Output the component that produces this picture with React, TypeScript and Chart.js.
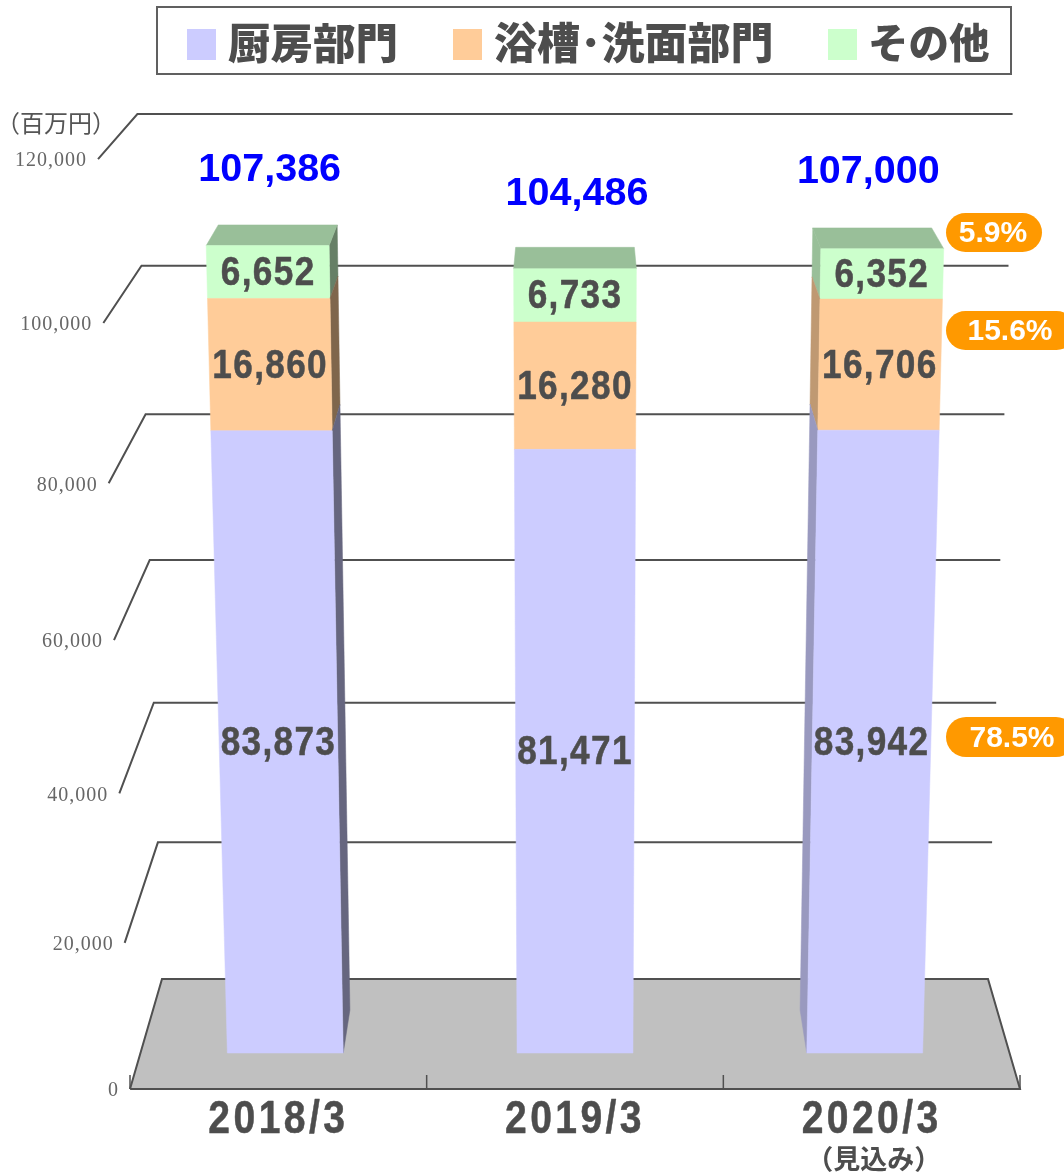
import React, { useEffect, useRef } from "react";
import { Chart, registerables, BarElement } from "chart.js";

const CATEGORIES = ["2018/3", "2019/3", "2020/3"];
const KITCHEN = [83873, 81471, 83942];
const BATH = [16860, 16280, 16706];
const OTHER = [6652, 6733, 6352];
const TOTALS = ["107,386", "104,486", "107,000"];
const SHARES = ["5.9%", "15.6%", "78.5%"];
const SERIES_NAMES = ["厨房部門", "浴槽･洗面部門", "その他"];
const UNIT_LABEL = "（百万円）";
const FORECAST_NOTE = "（見込み）";

const COLORS = ["#ccccff", "#ffcc99", "#ccffcc"];
const SIDE_RIGHT = ["#66667f", "#7f664c", "#667f66"];
const SIDE_LEFT = ["#9999bf", "#bf9972", "#99bf99"];
const TOP_FACE = "#99bf99";
const INK = "#4d4d4d";
const GOTHIC = '"Noto Sans CJK JP"';
const SANS = '"Liberation Sans"';

// perspective calibration: front plane and back wall of the 3D box
const FRONT_D = 0.327;
const BACK_D = 0.718;
const CANVAS_W = 1064;
const CANVAS_H = 1173;
const AREA = { left: 130, right: 1020, top: 159, bottom: 1089 };

function project(px: number, py: number, d: number) {
  const cx = (AREA.left + AREA.right) / 2;
  const u = (px - cx) / ((AREA.right - AREA.left) / 2);
  const k = ((AREA.bottom - py) / (AREA.bottom - AREA.top)) * 6;
  const yFront = 1089 - (144.3 * k + 1.78 * k * k);
  const yBack = 979 - (135.17 * k + 1.5 * k * k);
  const hFront = 445 + 5.33 * k;
  const hBack = 413 + 4.1 * k;
  return {
    x: cx + u * (hFront + (hBack - hFront) * d),
    y: yFront + (yBack - yFront) * d,
  };
}

function poly(ctx: CanvasRenderingContext2D, pts: { x: number; y: number }[], fill: string) {
  ctx.beginPath();
  pts.forEach((p, i) => (i ? ctx.lineTo(p.x, p.y) : ctx.moveTo(p.x, p.y)));
  ctx.closePath();
  ctx.fillStyle = fill;
  ctx.fill();
  ctx.strokeStyle = fill;
  ctx.lineWidth = 0.5;
  ctx.stroke();
}

function label(
  ctx: CanvasRenderingContext2D,
  text: string,
  x: number,
  y: number,
  font: string,
  color: string,
  opts: { align?: CanvasTextAlign; sx?: number; spacing?: number; stroke?: number } = {},
) {
  ctx.save();
  ctx.translate(x, y);
  ctx.scale(opts.sx ?? 1, 1);
  ctx.font = font;
  ctx.fillStyle = color;
  ctx.textAlign = opts.align ?? "center";
  ctx.textBaseline = "middle";
  (ctx as any).letterSpacing = `${opts.spacing ?? 0}px`;
  if (opts.stroke) {
    ctx.strokeStyle = color;
    ctx.lineWidth = opts.stroke;
    ctx.lineJoin = "round";
    ctx.strokeText(text, 0, 0);
  }
  ctx.fillText(text, 0, 0);
  ctx.restore();
}

class Bar3DElement extends BarElement {
  static id = "bar3d";
  draw(ctx: CanvasRenderingContext2D) {
    const { x, y, base, width } = (this as any).getProps(["x", "y", "base", "width"], true);
    const ds = COLORS.indexOf((this as any).options.backgroundColor);
    const l = x - width / 2;
    const r = x + width / 2;
    const f = (px: number, py: number) => project(px, py, FRONT_D);
    const b = (px: number, py: number) => project(px, py, BACK_D);
    ctx.save();
    if (b(l, base).x < f(l, base).x) {
      poly(ctx, [f(l, base), b(l, base), b(l, y), f(l, y)], SIDE_LEFT[ds]);
    }
    if (b(r, base).x > f(r, base).x) {
      poly(ctx, [f(r, base), b(r, base), b(r, y), f(r, y)], SIDE_RIGHT[ds]);
    }
    if (ds === COLORS.length - 1) {
      poly(ctx, [f(l, y), b(l, y), b(r, y), f(r, y)], TOP_FACE);
    }
    poly(ctx, [f(l, base), f(r, base), f(r, y), f(l, y)], COLORS[ds]);
    ctx.restore();
  }
}

const box3dPlugin = {
  id: "box3d",
  beforeDatasetsDraw(chart: any) {
    const ctx: CanvasRenderingContext2D = chart.ctx;
    const xs = chart.scales.x;
    const ys = chart.scales.y;
    const { left, right, bottom } = chart.chartArea;
    const step = xs.getPixelForValue(1) - xs.getPixelForValue(0);
    ctx.save();
    ctx.lineCap = "butt";
    // floor
    const fl = project(left, bottom, 0);
    const fr = project(right, bottom, 0);
    const bl = project(left, bottom, 1);
    const br = project(right, bottom, 1);
    poly(ctx, [fl, bl, br, fr], "#c0c0c0");
    ctx.strokeStyle = "#505050";
    ctx.lineWidth = 2;
    ctx.beginPath();
    ctx.moveTo(fl.x, fl.y);
    ctx.lineTo(bl.x, bl.y);
    ctx.lineTo(br.x, br.y);
    ctx.lineTo(fr.x, fr.y);
    ctx.lineTo(fl.x, fl.y);
    ctx.stroke();
    // category ticks
    for (let i = 0; i <= CATEGORIES.length; i++) {
      const px = xs.getPixelForValue(0) - step / 2 + step * i;
      ctx.lineWidth = 1.5;
      ctx.beginPath();
      ctx.moveTo(px, bottom);
      ctx.lineTo(px, bottom - 14);
      ctx.stroke();
    }
    // gridlines + tick labels
    for (const t of ys.ticks) {
      const py = ys.getPixelForValue(t.value);
      const a = project(left, py, 0);
      if (t.value !== 0) {
        const c = project(left, py, 1);
        const e = project(right, py, 1);
        ctx.strokeStyle = "#505050";
        ctx.lineWidth = 2;
        ctx.beginPath();
        ctx.moveTo(a.x, a.y);
        ctx.lineTo(c.x, c.y);
        ctx.lineTo(e.x, e.y);
        ctx.stroke();
      }
      label(ctx, t.value.toLocaleString("en-US"), a.x - 11, a.y + 2, '20px "Liberation Serif"', "#666666", {
        align: "right",
        spacing: 1,
      });
    }
    ctx.restore();
  },
  afterDatasetsDraw(chart: any) {
    const ctx: CanvasRenderingContext2D = chart.ctx;
    const valueFont = `bold 40px ${SANS}`;
    // values inside segments, centred on the projected front face
    chart.data.datasets.forEach((ds: any, di: number) => {
      chart.getDatasetMeta(di).data.forEach((el: any, i: number) => {
        const top = project(el.x, el.y, FRONT_D);
        const bot = project(el.x, el.base, FRONT_D);
        label(ctx, ds.data[i].toLocaleString("en-US"), (top.x + bot.x) / 2, (top.y + bot.y) / 2 + 2, valueFont, INK, {
          sx: 0.88,
          spacing: 1.5,
          stroke: 0.5,
        });
      });
    });
    // totals above the stacks
    const topMeta = chart.getDatasetMeta(chart.data.datasets.length - 1);
    TOTALS.forEach((t, i) => {
      const el = topMeta.data[i];
      const p = project(el.x, el.y, FRONT_D);
      const dx = i === 2 ? -14 : 2;
      const dy = i === 2 ? -77 : -75;
      label(ctx, t, p.x + dx, p.y + dy, `bold 39.5px ${SANS}`, "#0000ff");
    });
    // category labels
    CATEGORIES.forEach((c, i) => {
      const px = chart.scales.x.getPixelForValue(i);
      label(ctx, c, px, 1120, `bold 46px ${SANS}`, INK, { sx: 0.85, spacing: 4, stroke: 0.5 });
    });
    label(ctx, FORECAST_NOTE, chart.scales.x.getPixelForValue(2) + 2, 1159, `bold 27px ${GOTHIC}`, INK);
    label(ctx, UNIT_LABEL, 56, 123, `400 24px ${GOTHIC}`, "#555555");
    // share pills
    const pills = [
      { y: 213, h: 39, w: 96, tx: 993 },
      { y: 311, h: 39, w: 130, tx: 1010 },
      { y: 717, h: 40, w: 130, tx: 1012 },
    ];
    pills.forEach((p, i) => {
      ctx.beginPath();
      (ctx as any).roundRect(946, p.y, p.w, p.h, p.h / 2);
      ctx.fillStyle = "#ff9900";
      ctx.fill();
      label(ctx, SHARES[i], p.tx, p.y + p.h / 2 + 1.5, `bold 30px ${SANS}`, "#ffffff");
    });
    // legend
    ctx.strokeStyle = "#606060";
    ctx.lineWidth = 2;
    ctx.strokeRect(157, 7, 854, 67);
    const legend = [
      { sw: 187, tx: 228, size: 42.5 },
      { sw: 453, tx: 494, size: 43 },
      { sw: 828, tx: 868, size: 40.5 },
    ];
    legend.forEach((e, i) => {
      ctx.fillStyle = COLORS[i];
      ctx.fillRect(e.sw, 29, 29, 31);
      label(ctx, SERIES_NAMES[i], e.tx, 43, `900 ${e.size}px ${GOTHIC}`, INK, { align: "left" });
    });
  },
};

export default function App() {
  const ref = useRef<HTMLCanvasElement>(null);
  useEffect(() => {
    Chart.register(...registerables, Bar3DElement as any);
    (Chart.defaults as any).datasets.bar.dataElementType = "bar3d";
    const series = [KITCHEN, BATH, OTHER];
    const chart = new Chart(ref.current as HTMLCanvasElement, {
      type: "bar",
      data: {
        labels: CATEGORIES,
        datasets: series.map((data, i) => ({
          label: SERIES_NAMES[i],
          data,
          backgroundColor: COLORS[i],
          categoryPercentage: 0.4,
          barPercentage: 1,
          clip: false as any,
        })),
      },
      plugins: [box3dPlugin as any],
      options: {
        animation: false,
        responsive: false,
        layout: {
          padding: {
            left: AREA.left,
            right: CANVAS_W - AREA.right,
            top: AREA.top,
            bottom: CANVAS_H - AREA.bottom,
          },
        },
        plugins: { legend: { display: false }, tooltip: { enabled: false } },
        scales: {
          x: { stacked: true, display: false },
          y: { stacked: true, display: false, min: 0, max: 120000, ticks: { stepSize: 20000 } },
        },
      },
    });
    return () => chart.destroy();
  }, []);
  return (
    <div style={{ position: "absolute", left: 0, top: 0, width: CANVAS_W, height: CANVAS_H, overflow: "hidden" }}>
      <canvas ref={ref} width={CANVAS_W} height={CANVAS_H} style={{ display: "block" }} />
    </div>
  );
}
